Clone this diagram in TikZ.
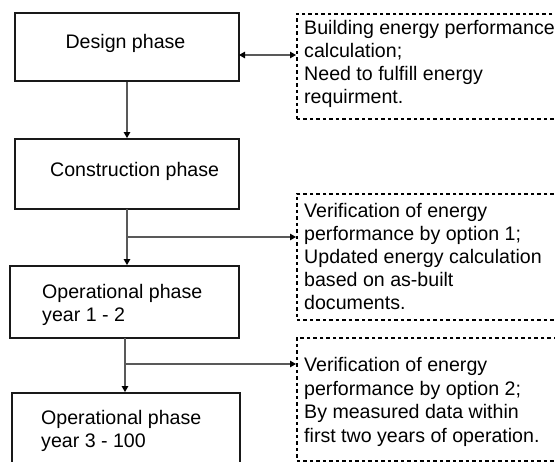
\documentclass[tikz,border=0pt]{standalone}
\usepackage{fontspec}
\setmainfont{Liberation Sans}
\usetikzlibrary{arrows.meta}
\begin{document}
\begin{tikzpicture}[x=1pt,y=-1pt,
  phasebox/.style={draw=black!90,line width=1.8pt,inner sep=0pt},
  notebox/.style={draw=black,line width=1.6pt,dash pattern=on 3.5pt off 3pt,inner sep=0pt},
  txt/.style={inner sep=0pt,font=\fontsize{19.6}{23}\selectfont},
  conn/.style={draw=black!65,line width=1.1pt,-{Triangle[length=6pt,width=6.5pt,color=black]}},
  dconn/.style={draw=black!65,line width=1.1pt,{Triangle[length=6pt,width=6.5pt,color=black]}-{Triangle[length=6pt,width=6.5pt,color=black]}}
]
\useasboundingbox (0,0) rectangle (555,462);
% phase boxes
\node[phasebox,minimum width=224pt,minimum height=68pt] (design) at (127,47) {};
\node[phasebox,minimum width=224pt,minimum height=70pt] (constr) at (127,174) {};
\node[phasebox,minimum width=229pt,minimum height=72pt] (op1) at (124.5,302) {};
\node[phasebox,minimum width=228pt,minimum height=80pt] (op2) at (126,433) {};
% note boxes
\node[notebox,minimum width=280pt,minimum height=105pt,anchor=north west] (n1) at (296,13) {};
\node[notebox,minimum width=280pt,minimum height=126pt,anchor=north west] (n2) at (296,193) {};
\node[notebox,minimum width=280pt,minimum height=123pt,anchor=north west] (n3) at (296,337) {};
% texts
\node[txt,anchor=base] (tdesign) at (125.5,49) {Design phase};
\node[txt,anchor=base west] (tconstr) at (50,177) {Construction phase};
\node[txt,anchor=base west] (top1) at (42,299) {\begin{tabular}[t]{@{}l@{}}Operational phase\\year 1 - 2\end{tabular}};
\node[txt,anchor=base west] (top2) at (41,425) {\begin{tabular}[t]{@{}l@{}}Operational phase\\year 3 - 100\end{tabular}};
\node[txt,anchor=base west] (tn1) at (304,35) {\begin{tabular}[t]{@{}l@{}}Building energy performance\\calculation;\\Need to fulfill energy\\requirment.\end{tabular}};
\node[txt,anchor=base west] (tn2) at (304,218) {\begin{tabular}[t]{@{}l@{}}Verification of energy\\performance by option 1;\\Updated energy calculation\\based on as-built\\documents.\end{tabular}};
\node[txt,anchor=base west,font=\fontsize{19.6}{23.5}\selectfont] (tn3) at (304,372) {\begin{tabular}[t]{@{}l@{}}Verification of energy\\performance by option 2;\\By measured data within\\first two years of operation.\end{tabular}};
% connectors
\coordinate (d1) at (239,55);
\draw[dconn] (d1) -- (d1 -| n1.west);
\draw[conn] (design.south) -- (constr.north);
\coordinate (c0) at (127,209);
\draw[conn] (c0) -- (c0 |- op1.north);
\coordinate (b1) at (127,237);
\draw[conn] (b1) -- (b1 -| n2.west);
\coordinate (o0) at (125,338);
\draw[conn] (o0) -- (o0 |- op2.north);
\coordinate (b2) at (125,364);
\draw[conn] (b2) -- (b2 -| n3.west);
\end{tikzpicture}
\end{document}
